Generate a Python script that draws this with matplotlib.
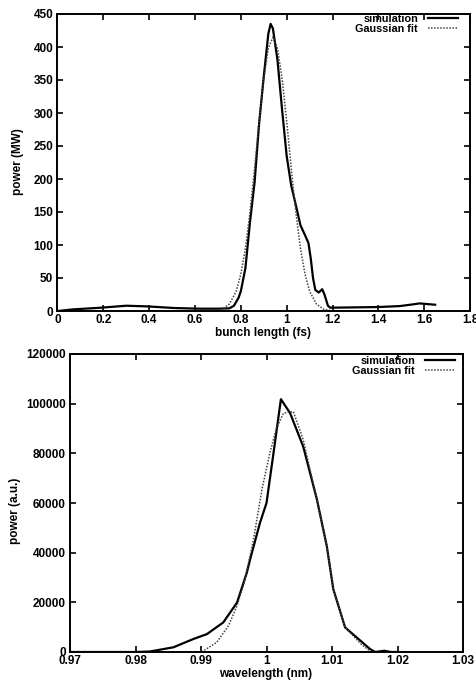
import matplotlib
matplotlib.use("Agg")
import matplotlib.pyplot as plt
from matplotlib.lines import Line2D

plt.rcParams['font.family'] = ['Liberation Sans', 'DejaVu Sans']

# ---- top panel: temporal power profile ----
t_sim_x = [0.0, 0.07, 0.19, 0.30, 0.39, 0.51, 0.62, 0.70, 0.75, 0.77, 0.79, 0.80, 0.82,
           0.84, 0.86, 0.88, 0.90, 0.92, 0.93, 0.94, 0.96, 0.98, 1.00, 1.02, 1.045,
           1.06, 1.08, 1.095, 1.105, 1.115, 1.125, 1.14, 1.155, 1.165, 1.18, 1.19,
           1.30, 1.40, 1.495, 1.55, 1.58, 1.648]
t_sim_y = [0, 2.5, 5, 8, 7, 4.5, 3.5, 3.5, 4, 8, 20, 30, 65,
           135, 195, 285, 355, 420, 435, 428, 380, 305, 235, 190, 153,
           130, 115, 103, 80, 50, 32, 28, 33, 25, 8, 5,
           5.5, 6, 7.5, 10, 11.5, 9.5]

t_fit_x = [0.70, 0.72, 0.75, 0.78, 0.80, 0.82, 0.84, 0.86, 0.88, 0.90, 0.92, 0.94,
           0.96, 0.98, 1.00, 1.02, 1.04, 1.06, 1.08, 1.10, 1.13, 1.16, 1.19]
t_fit_y = [0, 3, 10.5, 30, 56, 95, 150, 216, 288, 352, 398, 415,
           398, 352, 288, 216, 150, 95, 56, 30, 10.5, 3, 0.7]

t_xticks = [0, 0.2, 0.4, 0.6, 0.8, 1.0, 1.2, 1.4, 1.6, 1.8]
t_xticklabels = ['0', '0.2', '0.4', '0.6', '0.8', '1', '1.2', '1.4', '1.6', '1.8']
t_yticks = [0, 50, 100, 150, 200, 250, 300, 350, 400, 450]

# ---- bottom panel: spectrum ----
s_sim_x = [0.970, 0.980, 0.9822, 0.9858, 0.9888, 0.9909, 0.9934, 0.9955, 0.9970,
           0.9975, 0.9990, 1.0000, 1.0010, 1.0022, 1.0036, 1.0056, 1.0077, 1.0092,
           1.0102, 1.0120, 1.0158, 1.0166, 1.0180, 1.0190, 1.0200]
s_sim_y = [0, 0, 200, 1900, 5200, 7200, 11900, 19900, 32000,
           37300, 52000, 60000, 78800, 101800, 96200, 82800, 61400, 42700,
           25300, 9900, 1200, 0, 500, 0, 0]

s_fit_x = [0.9901, 0.9924, 0.9942, 0.9955, 0.9965, 0.9980, 0.9993, 1.0005, 1.0015,
           1.0026, 1.0041, 1.0056, 1.0077, 1.0092, 1.0102, 1.0120, 1.0145, 1.0160]
s_fit_y = [0, 3900, 10600, 18600, 27000, 45000, 65400, 80000, 90000,
           96200, 96800, 85500, 61400, 42700, 25300, 9900, 3000, 0]

s_xticks = [0.97, 0.98, 0.99, 1.00, 1.01, 1.02, 1.03]
s_xticklabels = ['0.97', '0.98', '0.99', '1', '1.01', '1.02', '1.03']
s_yticks = [0, 20000, 40000, 60000, 80000, 100000, 120000]
s_yticklabels = ['0', '20000', '40000', '60000', '80000', '100000', '120000']

W, H = 477, 683
fig = plt.figure(figsize=(W / 100, H / 100), dpi=100)

def frac(l, r, t, b):
    return [l / W, 1 - b / H, (r - l) / W, (b - t) / H]

ax1 = fig.add_axes(frac(57.5, 470, 14, 311))
ax2 = fig.add_axes(frac(70, 463, 354, 652))

FS = 8.5
for ax in (ax1, ax2):
    for s in ax.spines.values():
        s.set_linewidth(1.4)
    ax.tick_params(direction='in', length=4, width=1.2, top=True, right=True,
                   labelsize=FS, pad=3)
    ax.tick_params(axis='x', pad=2)

ax1.plot(t_sim_x, t_sim_y, color='black', lw=1.6, solid_joinstyle='round')
ax1.plot(t_fit_x, t_fit_y, color='#444444', lw=1.1, linestyle=(0, (1, 1)))
ax1.set_xlim(0, 1.8)
ax1.set_ylim(0, 450)
ax1.set_xticks(t_xticks)
ax1.set_xticklabels(t_xticklabels, fontweight='bold', fontsize=FS)
ax1.set_yticks(t_yticks)
ax1.set_yticklabels([str(v) for v in t_yticks], fontweight='bold', fontsize=FS)

ax2.plot(s_sim_x, s_sim_y, color='black', lw=1.6, solid_joinstyle='round')
ax2.plot(s_fit_x, s_fit_y, color='#444444', lw=1.1, linestyle=(0, (1, 1)))
ax2.set_xlim(0.97, 1.03)
ax2.set_ylim(0, 120000)
ax2.set_xticks(s_xticks)
ax2.set_xticklabels(s_xticklabels, fontweight='bold', fontsize=FS)
ax2.set_yticks(s_yticks)
ax2.set_yticklabels(s_yticklabels, fontweight='bold', fontsize=FS)

fig.text(18 / W, 1 - 162 / H, 'power (MW)', rotation=90, ha='center', va='center',
         fontsize=FS, fontweight='bold')
fig.text(263 / W, 1 - 333 / H, 'bunch length (fs)', ha='center', va='center',
         fontsize=FS, fontweight='bold')
fig.text(15 / W, 1 - 511 / H, 'power (a.u.)', rotation=90, ha='center', va='center',
         fontsize=FS, fontweight='bold')
fig.text(266 / W, 1 - 674 / H, 'wavelength (nm)', ha='center', va='center',
         fontsize=FS, fontweight='bold')

handles = [Line2D([], [], color='black', lw=1.6),
           Line2D([], [], color='#444444', lw=1.1, linestyle=(0, (1, 1)))]
labels = ['simulation', 'Gaussian fit']
for ax, anchor in ((ax1, (1 - 12 / 412.5, 1 - 0 / 297)),
                   (ax2, (1 - 8 / 393, 1 - 2 / 298))):
    leg = ax.legend(handles, labels, loc='upper right', frameon=False,
                    markerfirst=False, fontsize=7.8, handlelength=2.8,
                    handletextpad=0.9, labelspacing=0.0, borderaxespad=0.0,
                    borderpad=0.0, bbox_to_anchor=anchor)
    for t in leg.get_texts():
        t.set_fontweight('bold')

fig.savefig('out.png', dpi=100)
